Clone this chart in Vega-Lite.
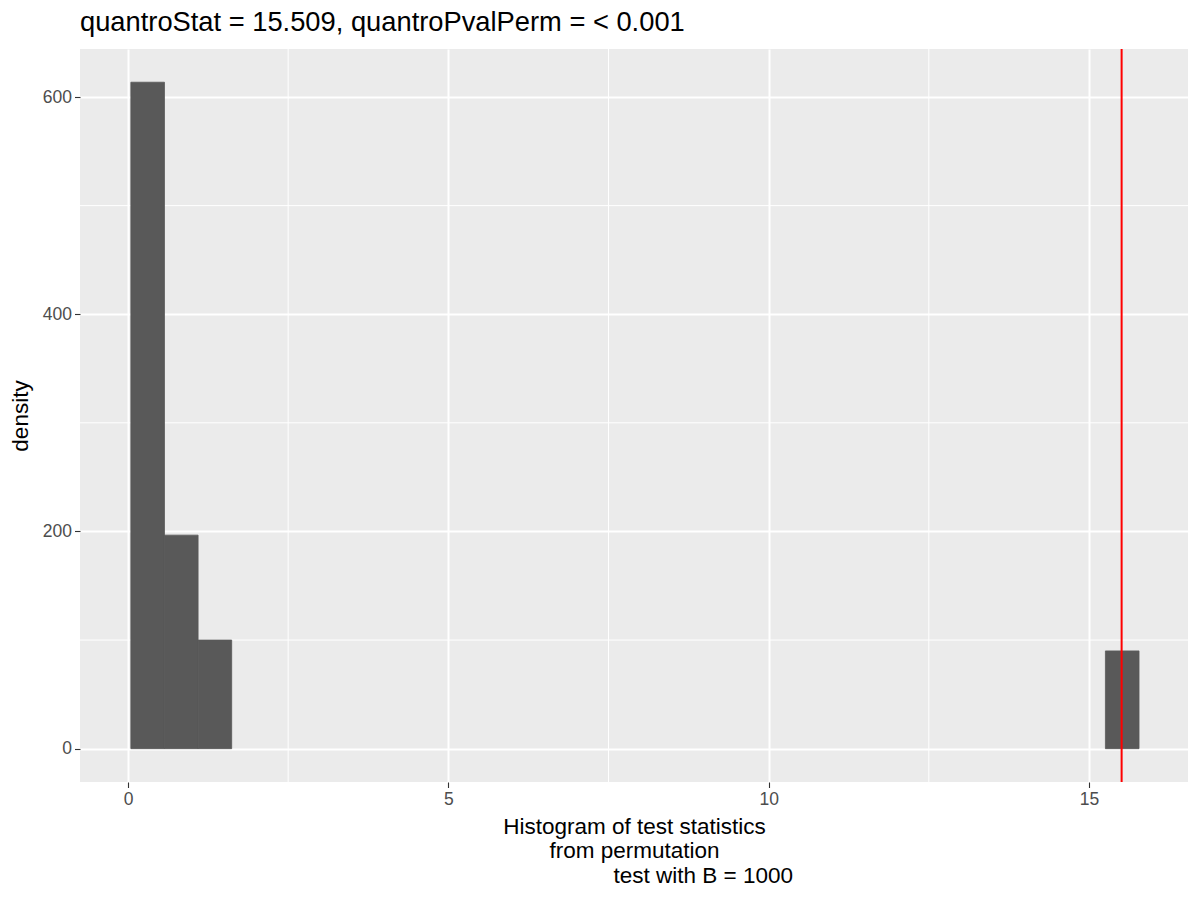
{
  "$schema": "https://vega.github.io/schema/vega-lite/v6.json",
  "width": 1108,
  "height": 733,
  "autosize": "none",
  "padding": {"left": 80, "top": 49, "right": 12, "bottom": 118},
  "background": "white",
  "title": {
    "text": "quantroStat = 15.509, quantroPvalPerm = < 0.001",
    "anchor": "start",
    "frame": "group",
    "font": "Liberation Sans",
    "fontSize": 27.3,
    "fontWeight": "normal",
    "color": "black",
    "offset": 12
  },
  "config": {
    "view": {"fill": "#EBEBEB", "stroke": null},
    "axis": {
      "labelFont": "Liberation Sans",
      "labelFontSize": 17.5,
      "labelColor": "#4D4D4D",
      "tickColor": "#333333",
      "tickSize": 5.5,
      "tickWidth": 1.1,
      "domain": false,
      "grid": true,
      "gridColor": "white",
      "gridWidth": 2,
      "labelPadding": 3,
      "titleFont": "Liberation Sans",
      "titleFontSize": 22.5,
      "titleFontWeight": "normal",
      "titleColor": "black"
    }
  },
  "layer": [
    {
      "data": {"values": [{"v": 2.5}, {"v": 7.5}, {"v": 12.5}]},
      "mark": {"type": "rule", "color": "white", "strokeWidth": 1},
      "encoding": {"x": {"field": "v", "type": "quantitative"}}
    },
    {
      "data": {"values": [{"v": 100}, {"v": 300}, {"v": 500}]},
      "mark": {"type": "rule", "color": "white", "strokeWidth": 1},
      "encoding": {"y": {"field": "v", "type": "quantitative"}}
    },
    {
      "data": {
        "values": [
          {"bin_start": 0.045, "bin_end": 0.5695, "density": 613.6},
          {"bin_start": 0.5695, "bin_end": 1.094, "density": 196.6},
          {"bin_start": 1.094, "bin_end": 1.6185, "density": 100.0},
          {"bin_start": 15.256, "bin_end": 15.7805, "density": 90.0}
        ]
      },
      "mark": {"type": "rect", "color": "#595959", "stroke": "#595959", "strokeWidth": 0.8},
      "encoding": {
        "x": {
          "field": "bin_start",
          "type": "quantitative",
          "scale": {"domain": [-0.749, 16.545], "nice": false, "zero": false},
          "axis": {
            "values": [0, 5, 10, 15],
            "format": "d",
            "title": [
              "Histogram of test statistics",
              "from permutation",
              "\u200b\u00a0\u00a0\u00a0\u00a0\u00a0\u00a0\u00a0\u00a0\u00a0\u00a0\u00a0\u00a0\u00a0\u00a0\u00a0\u00a0\u00a0\u00a0\u00a0\u00a0\u00a0\u00a0test with B = 1000"
            ],
            "titleX": 554,
            "titleY": 51,
            "titleAlign": "center",
            "titleBaseline": "alphabetic",
            "titleLineHeight": 24.5
          }
        },
        "x2": {"field": "bin_end"},
        "y": {
          "field": "density",
          "type": "quantitative",
          "scale": {"domain": [-30.7, 644.2], "nice": false, "zero": false},
          "axis": {
            "values": [0, 200, 400, 600],
            "format": "d",
            "title": "density",
            "titleX": -53,
            "titleY": 366.5,
            "titleAlign": "center",
            "titleBaseline": "alphabetic",
            "titleAngle": -90
          }
        },
        "y2": {"datum": 0}
      }
    },
    {
      "data": {"values": [{"quantroStat": 15.509}]},
      "mark": {"type": "rule", "color": "#FF0000", "strokeWidth": 2},
      "encoding": {"x": {"field": "quantroStat", "type": "quantitative"}}
    }
  ]
}
